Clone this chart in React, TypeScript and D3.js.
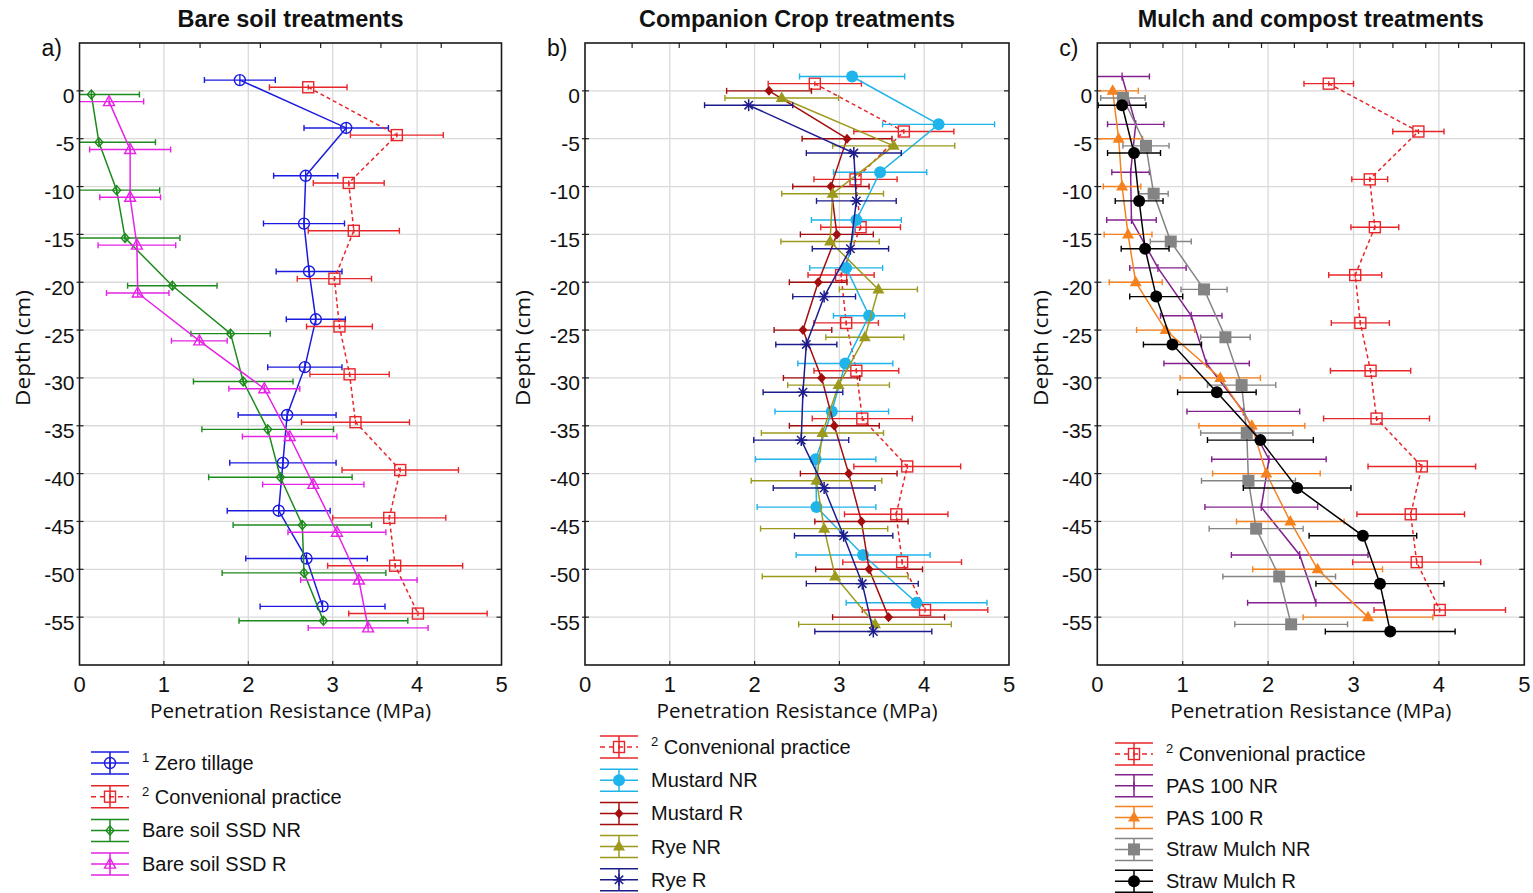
import React, { useEffect, useRef } from 'react';
import * as d3 from 'd3';

// depth categories (cm) and axis ticks
const depths = [0, -5, -10, -15, -20, -25, -30, -35, -40, -45, -50, -55];
const xTicks = [0, 1, 2, 3, 4, 5];

// penetration resistance (MPa): means and half error bars
const conventional = [2.71, 3.76, 3.19, 3.25, 3.02, 3.08, 3.20, 3.27, 3.80, 3.67, 3.74, 4.01];
const convErrA = [0.46, 0.55, 0.42, 0.54, 0.44, 0.39, 0.47, 0.64, 0.69, 0.67, 0.80, 0.82];
const convErrB = [0.55, 0.59, 0.49, 0.47, 0.39, 0.38, 0.50, 0.59, 0.63, 0.61, 0.70, 0.74];
const convErrC = [0.29, 0.30, 0.21, 0.28, 0.31, 0.34, 0.47, 0.62, 0.63, 0.63, 0.75, 0.77];

const zeroTillage = [1.90, 3.16, 2.68, 2.66, 2.72, 2.80, 2.67, 2.46, 2.41, 2.36, 2.69, 2.88];
const zeroTillageErr = [0.42, 0.50, 0.38, 0.48, 0.39, 0.35, 0.44, 0.58, 0.63, 0.61, 0.72, 0.74];
const bareNR = [0.14, 0.23, 0.44, 0.54, 1.10, 1.79, 1.94, 2.23, 2.38, 2.64, 2.66, 2.89];
const bareNRErr = [0.57, 0.67, 0.51, 0.65, 0.53, 0.47, 0.59, 0.78, 0.85, 0.82, 0.97, 1.00];
const bareR = [0.35, 0.60, 0.60, 0.68, 0.69, 1.42, 2.19, 2.49, 2.77, 3.05, 3.31, 3.42];
const bareRErr = [0.41, 0.48, 0.36, 0.46, 0.37, 0.33, 0.42, 0.56, 0.60, 0.58, 0.69, 0.71];

const mustardNR = [3.15, 4.17, 3.48, 3.20, 3.08, 3.35, 3.07, 2.91, 2.72, 2.73, 3.28, 3.91];
const mustardNRErr = [0.62, 0.66, 0.55, 0.53, 0.43, 0.42, 0.56, 0.67, 0.71, 0.70, 0.79, 0.83];
const mustardR = [2.17, 3.09, 2.90, 2.97, 2.75, 2.57, 2.79, 2.94, 3.11, 3.26, 3.35, 3.58];
const mustardRErr = [0.50, 0.53, 0.45, 0.43, 0.34, 0.34, 0.45, 0.53, 0.57, 0.55, 0.63, 0.66];
const ryeNR = [2.32, 3.64, 2.92, 2.89, 3.46, 3.30, 2.99, 2.80, 2.73, 2.82, 2.95, 3.42];
const ryeNRErr = [0.67, 0.72, 0.60, 0.58, 0.46, 0.46, 0.60, 0.72, 0.77, 0.75, 0.86, 0.90];
const ryeR = [1.93, 3.17, 3.20, 3.13, 2.82, 2.61, 2.57, 2.55, 2.82, 3.05, 3.27, 3.40];
const ryeRErr = [0.52, 0.56, 0.47, 0.45, 0.37, 0.36, 0.47, 0.56, 0.60, 0.58, 0.66, 0.69];

const pasNR = [0.29, 0.45, 0.39, 0.40, 0.71, 1.10, 1.28, 1.71, 2.01, 1.92, 2.37, 2.56];
const pasNRErr = [0.32, 0.33, 0.22, 0.29, 0.33, 0.36, 0.50, 0.66, 0.67, 0.66, 0.80, 0.80];
const pasR = [0.18, 0.25, 0.29, 0.36, 0.45, 0.80, 1.44, 1.81, 1.98, 2.26, 2.58, 3.17];
const pasRErr = [0.30, 0.28, 0.22, 0.28, 0.31, 0.34, 0.47, 0.62, 0.63, 0.63, 0.76, 0.76];
const strawNR = [0.30, 0.57, 0.66, 0.86, 1.25, 1.50, 1.69, 1.75, 1.77, 1.86, 2.13, 2.27];
const strawNRErr = [0.26, 0.27, 0.17, 0.24, 0.27, 0.29, 0.40, 0.54, 0.55, 0.55, 0.66, 0.66];
const strawR = [0.29, 0.43, 0.49, 0.56, 0.69, 0.88, 1.40, 1.91, 2.34, 3.11, 3.31, 3.43];
const strawRErr = [0.28, 0.31, 0.28, 0.28, 0.31, 0.34, 0.46, 0.62, 0.63, 0.63, 0.75, 0.76];

const PLOT_TOP = 43;
const PLOT_BOTTOM = 665;

const panels = [
  {
    letter: 'a)', title: 'Bare soil treatments', titleLen: 226, left: 79.5, right: 501.5, topDiv: 7,
    yLabelX: 22, legendX: 91, legendY: 763, legendStep: 33.7,
    series: [
      { sup: '1', name: 'Zero tillage', color: '#1a1ae0', marker: 'circleOpen', dashed: false, offset: 1.125, values: zeroTillage, errors: zeroTillageErr },
      { sup: '2', name: 'Convenional practice', color: '#e8262a', marker: 'squareOpen', dashed: true, offset: 0.375, values: conventional, errors: convErrA },
      { sup: '', name: 'Bare soil SSD NR', color: '#1d8a1d', marker: 'diamondOpen', dashed: false, offset: -0.375, values: bareNR, errors: bareNRErr },
      { sup: '', name: 'Bare soil SSD R', color: '#e524e5', marker: 'triangleOpen', dashed: false, offset: -1.125, values: bareR, errors: bareRErr },
    ],
  },
  {
    letter: 'b)', title: 'Companion Crop treatments', titleLen: 316, left: 585, right: 1009, topDiv: 9,
    yLabelX: 522, legendX: 600, legendY: 747, legendStep: 33.2,
    series: [
      { sup: '2', name: 'Convenional practice', color: '#e8262a', marker: 'squareOpen', dashed: true, offset: 0.75, values: conventional, errors: convErrB },
      { sup: '', name: 'Mustard NR', color: '#1fb4ea', marker: 'circle', dashed: false, offset: 1.5, values: mustardNR, errors: mustardNRErr },
      { sup: '', name: 'Mustard R', color: '#a30d0d', marker: 'diamond', dashed: false, offset: 0, values: mustardR, errors: mustardRErr },
      { sup: '', name: 'Rye NR', color: '#9c9a1c', marker: 'triangle', dashed: false, offset: -0.75, values: ryeNR, errors: ryeNRErr },
      { sup: '', name: 'Rye R', color: '#1c1c8c', marker: 'asterisk', dashed: false, offset: -1.5, values: ryeR, errors: ryeRErr },
    ],
  },
  {
    letter: 'c)', title: 'Mulch and compost treatments', titleLen: 346, left: 1097.3, right: 1524.3, topDiv: 13,
    yLabelX: 1040, legendX: 1115, legendY: 754, legendStep: 31.8,
    series: [
      { sup: '2', name: 'Convenional practice', color: '#e8262a', marker: 'squareOpen', dashed: true, offset: 0.75, values: conventional, errors: convErrC },
      { sup: '', name: 'PAS 100 NR', color: '#82208e', marker: 'vtick', dashed: false, offset: 1.5, values: pasNR, errors: pasNRErr },
      { sup: '', name: 'PAS 100 R', color: '#f5821f', marker: 'triangle', dashed: false, offset: 0, values: pasR, errors: pasRErr },
      { sup: '', name: 'Straw Mulch NR', color: '#848484', marker: 'square', dashed: false, offset: -0.75, values: strawNR, errors: strawNRErr },
      { sup: '', name: 'Straw Mulch R', color: '#000000', marker: 'circle', dashed: false, offset: -1.5, values: strawR, errors: strawRErr },
    ],
  },
];

const drawMarker = (g, kind, cx, cy, color) => {
  const open = { fill: 'none', stroke: color, 'stroke-width': 1.4 };
  const apply = (sel, attrs) => { Object.entries(attrs).forEach(([k, v]) => sel.attr(k, v)); return sel; };
  const vline = (h) => g.append('line').attr('x1', cx).attr('x2', cx).attr('y1', cy - h).attr('y2', cy + h)
    .attr('stroke', color).attr('stroke-width', 1.3);
  switch (kind) {
    case 'circleOpen':
      apply(g.append('circle').attr('cx', cx).attr('cy', cy).attr('r', 5.5), open);
      vline(5.5);
      break;
    case 'squareOpen':
      apply(g.append('rect').attr('x', cx - 5.5).attr('y', cy - 5.5).attr('width', 11).attr('height', 11), open);
      vline(2.5);
      break;
    case 'diamondOpen':
      apply(g.append('path').attr('d', `M${cx},${cy - 4.5}L${cx + 4},${cy}L${cx},${cy + 4.5}L${cx - 4},${cy}Z`), open);
      vline(4.5);
      break;
    case 'triangleOpen':
      apply(g.append('path').attr('d', `M${cx},${cy - 6}L${cx + 5.5},${cy + 4}L${cx - 5.5},${cy + 4}Z`), open);
      vline(4);
      break;
    case 'circle':
      g.append('circle').attr('cx', cx).attr('cy', cy).attr('r', 6).attr('fill', color);
      break;
    case 'diamond':
      g.append('path').attr('d', `M${cx},${cy - 5}L${cx + 4.5},${cy}L${cx},${cy + 5}L${cx - 4.5},${cy}Z`).attr('fill', color);
      break;
    case 'triangle':
      g.append('path').attr('d', `M${cx},${cy - 6.5}L${cx + 6},${cy + 4}L${cx - 6},${cy + 4}Z`).attr('fill', color);
      break;
    case 'square':
      g.append('rect').attr('x', cx - 6).attr('y', cy - 6).attr('width', 12).attr('height', 12).attr('fill', color);
      break;
    case 'asterisk': {
      const r = 6;
      [[0, r], [r, 0], [r * 0.7, r * 0.7], [r * 0.7, -r * 0.7]].forEach(([dx, dy]) => {
        g.append('line').attr('x1', cx - dx).attr('y1', cy - dy).attr('x2', cx + dx).attr('y2', cy + dy)
          .attr('stroke', color).attr('stroke-width', 1.5);
      });
      break;
    }
    case 'vtick':
      vline(4);
      break;
    default:
      break;
  }
};

const Chart = () => {
  const ref = useRef(null);

  useEffect(() => {
    const svg = d3.select(ref.current);
    svg.selectAll('*').remove();

    const y = d3.scaleLinear().domain([5, -60]).range([PLOT_TOP, PLOT_BOTTOM]);
    const axisFont = '"Open Sans", "DejaVu Sans", sans-serif';
    const textFont = '"Liberation Sans", Arial, sans-serif';

    panels.forEach((p, pi) => {
      const x = d3.scaleLinear().domain([0, 5]).range([p.left, p.right]);
      const g = svg.append('g');
      const clipId = `plot-clip-${pi}`;
      svg.append('clipPath').attr('id', clipId).append('rect')
        .attr('x', p.left).attr('y', PLOT_TOP)
        .attr('width', p.right - p.left).attr('height', PLOT_BOTTOM - PLOT_TOP);

      // grid
      g.selectAll('.vgrid').data(xTicks.slice(1, -1)).enter().append('line')
        .attr('x1', d => x(d)).attr('x2', d => x(d))
        .attr('y1', PLOT_TOP).attr('y2', PLOT_BOTTOM)
        .attr('stroke', '#dadada').attr('stroke-width', 1.3);
      g.selectAll('.hgrid').data(depths).enter().append('line')
        .attr('x1', p.left).attr('x2', p.right)
        .attr('y1', d => y(d)).attr('y2', d => y(d))
        .attr('stroke', '#dadada').attr('stroke-width', 1.3);

      // tick marks
      const topTicks = d3.range(1, p.topDiv).map(k => (5 * k) / p.topDiv);
      g.selectAll('.ttick').data(topTicks).enter().append('line')
        .attr('x1', d => x(d)).attr('x2', d => x(d))
        .attr('y1', PLOT_TOP).attr('y2', PLOT_TOP + 5)
        .attr('stroke', '#222').attr('stroke-width', 1.2);
      g.selectAll('.btick').data(xTicks.slice(1, -1)).enter().append('line')
        .attr('x1', d => x(d)).attr('x2', d => x(d))
        .attr('y1', PLOT_BOTTOM).attr('y2', PLOT_BOTTOM - 4)
        .attr('stroke', '#222').attr('stroke-width', 1.2);
      g.selectAll('.ltick').data(depths).enter().append('line')
        .attr('x1', p.left - 3).attr('x2', p.left + 4)
        .attr('y1', d => y(d)).attr('y2', d => y(d))
        .attr('stroke', '#222').attr('stroke-width', 1.2);
      g.selectAll('.rtick').data(depths).enter().append('line')
        .attr('x1', p.right).attr('x2', p.right - 5)
        .attr('y1', d => y(d)).attr('y2', d => y(d))
        .attr('stroke', '#222').attr('stroke-width', 1.2);

      // data
      const plot = g.append('g').attr('clip-path', `url(#${clipId})`);
      p.series.forEach(s => {
        const pts = s.values.map((v, i) => ({ v, e: s.errors[i], d: depths[i] + s.offset }));
        const sg = plot.append('g');
        pts.forEach(pt => {
          const yy = y(pt.d);
          const xl = x(pt.v - pt.e);
          const xr = x(pt.v + pt.e);
          sg.append('line').attr('x1', xl).attr('x2', xr).attr('y1', yy).attr('y2', yy)
            .attr('stroke', s.color).attr('stroke-width', 1.4);
          [xl, xr].forEach(xc => {
            sg.append('line').attr('x1', xc).attr('x2', xc).attr('y1', yy - 3).attr('y2', yy + 3)
              .attr('stroke', s.color).attr('stroke-width', 1.4);
          });
        });
        const line = d3.line().x(d => x(d.v)).y(d => y(d.d));
        sg.append('path').datum(pts).attr('d', line)
          .attr('fill', 'none').attr('stroke', s.color).attr('stroke-width', 1.5)
          .attr('stroke-dasharray', s.dashed ? '4,3' : null);
        pts.forEach(pt => drawMarker(sg, s.marker, x(pt.v), y(pt.d), s.color));
      });

      // box
      g.append('rect').attr('x', p.left).attr('y', PLOT_TOP)
        .attr('width', p.right - p.left).attr('height', PLOT_BOTTOM - PLOT_TOP)
        .attr('fill', 'none').attr('stroke', '#1a1a1a').attr('stroke-width', 1.6);

      // tick labels
      g.selectAll('.ylab').data(depths).enter().append('text')
        .attr('x', p.left - 5).attr('y', d => y(d) + 5)
        .attr('text-anchor', 'end').attr('dominant-baseline', 'central')
        .style('font-family', textFont).style('font-size', '21px').attr('fill', '#111')
        .text(d => String(d));
      g.selectAll('.xlab').data(xTicks).enter().append('text')
        .attr('x', d => x(d)).attr('y', 684)
        .attr('text-anchor', 'middle').attr('dominant-baseline', 'central')
        .style('font-family', textFont).style('font-size', '22px').attr('fill', '#111')
        .text(d => String(d));

      // axis titles
      g.append('text').attr('x', (p.left + p.right) / 2).attr('y', 710)
        .attr('text-anchor', 'middle').attr('dominant-baseline', 'central')
        .attr('textLength', 281).attr('lengthAdjust', 'spacingAndGlyphs')
        .style('font-family', axisFont).style('font-size', '20px').attr('fill', '#111')
        .text('Penetration Resistance (MPa)');
      g.append('text')
        .attr('transform', `translate(${p.yLabelX},348) rotate(-90)`)
        .attr('text-anchor', 'middle').attr('dominant-baseline', 'central')
        .attr('textLength', 116).attr('lengthAdjust', 'spacingAndGlyphs')
        .style('font-family', axisFont).style('font-size', '20px').attr('fill', '#111')
        .text('Depth (cm)');
      g.append('text').attr('x', (p.left + p.right) / 2).attr('y', 19)
        .attr('text-anchor', 'middle').attr('dominant-baseline', 'central')
        .attr('textLength', p.titleLen).attr('lengthAdjust', 'spacingAndGlyphs')
        .style('font-family', textFont).style('font-size', '23px').style('font-weight', 'bold')
        .attr('fill', '#111').text(p.title);
      g.append('text').attr('x', p.left - 38).attr('y', 48)
        .attr('dominant-baseline', 'central')
        .style('font-family', textFont).style('font-size', '23px').attr('fill', '#111')
        .text(p.letter);

      // legend
      p.series.forEach((s, i) => {
        const cy = p.legendY + i * p.legendStep;
        const lg = g.append('g');
        const gx0 = p.legendX;
        const gx1 = p.legendX + 38;
        const gxc = (gx0 + gx1) / 2;
        [cy - 11, cy + 11].forEach(yy => {
          lg.append('line').attr('x1', gx0).attr('x2', gx1).attr('y1', yy).attr('y2', yy)
            .attr('stroke', s.color).attr('stroke-width', 1.5);
        });
        lg.append('line').attr('x1', gx0).attr('x2', gx1).attr('y1', cy).attr('y2', cy)
          .attr('stroke', s.color).attr('stroke-width', 1.5)
          .attr('stroke-dasharray', s.dashed ? '5,4' : null);
        lg.append('line').attr('x1', gxc).attr('x2', gxc).attr('y1', cy - 11).attr('y2', cy + 11)
          .attr('stroke', s.color).attr('stroke-width', 1.5);
        drawMarker(lg, s.marker, gxc, cy, s.color);
        const t = lg.append('text').attr('x', gx1 + 13).attr('y', cy)
          .attr('dominant-baseline', 'central')
          .style('font-family', textFont).style('font-size', '20px').attr('fill', '#111');
        if (s.sup) {
          t.append('tspan').attr('dy', -6).style('font-size', '13px').text(s.sup);
          t.append('tspan').attr('dy', 6).text(' ' + s.name);
        } else {
          t.text(s.name);
        }
      });
    });
  }, []);

  return (
    <svg
      ref={ref}
      width={1533}
      height={893}
      style={{ position: 'absolute', left: 0, top: 0, display: 'block', background: '#fff' }}
    />
  );
};

export default function App() {
  return <Chart />;
}
